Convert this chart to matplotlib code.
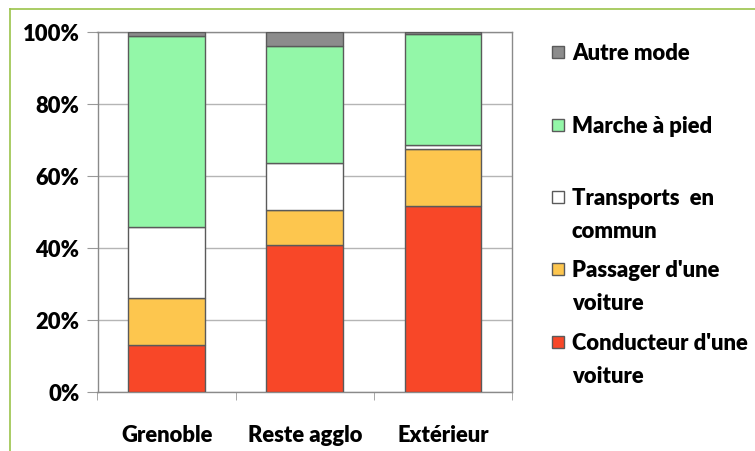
import numpy as np
import matplotlib.pyplot as plt
from matplotlib.patches import Rectangle
from matplotlib.lines import Line2D

plt.rcParams['font.family'] = ['Lato', 'DejaVu Sans']
plt.rcParams['font.weight'] = 'heavy'

# Data (percent of trips)
zones = ['Grenoble', 'Reste agglo', 'Extérieur']
conducteur = [13.1, 40.7, 51.6]
passager = [13.0, 9.9, 15.9]
transports = [19.6, 13.0, 0.9]
marche = [53.1, 32.5, 30.9]
autre = [1.2, 3.9, 0.7]

series = [conducteur, passager, transports, marche, autre]
labels = ["Conducteur d'une\nvoiture", "Passager d'une\nvoiture", "Transports  en\ncommun",
          "Marche à pied", "Autre mode"]
colors = ['#f84728', '#fdc64e', '#ffffff', '#93f7a8', '#8c8c8c']
fs = 15.8

fig = plt.figure(figsize=(7.55, 4.52), dpi=100)
W, H = 755, 452
ax = fig.add_axes([97.5 / W, (H - 392.7) / H, (512 - 97.5) / W, (392.7 - 32.7) / H])

x = np.arange(len(zones))
bottom = np.zeros(len(zones))
for vals, col in zip(series, colors):
    ax.bar(x, vals, width=0.556, bottom=bottom, color=col, edgecolor='#5a5a5a',
           linewidth=1.0, zorder=3)
    bottom += np.array(vals)

ax.set_xlim(-0.5, 2.5)
ax.set_ylim(0, 100)
ax.set_yticks(np.arange(0, 101, 20))
ax.set_yticklabels([f'{v}%' for v in range(0, 101, 20)])
ax.yaxis.grid(True, color='#b5b5b5', linewidth=1.0, zorder=0)
ax.set_xticks(x)
ax.set_xticklabels(zones)
ax.set_xticks([-0.5, 0.5, 1.5, 2.5], minor=True)
ax.tick_params(axis='x', which='major', length=0, pad=23, labelsize=fs)
ax.tick_params(axis='x', which='minor', length=6, color='#999999', direction='out')
ax.tick_params(axis='y', length=8, color='#999999', pad=5, labelsize=fs)
for s in ax.spines.values():
    s.set_color('#8a8a8a')
    s.set_linewidth(1.0)

# legend (top-down: Autre, Marche, Transports, Passager, Conducteur)
leg_y = [53, 126, 198, 270, 343]
for yy, lab, col in zip(leg_y, labels[::-1], colors[::-1]):
    fig.patches.append(Rectangle((552 / W, (H - yy - 6) / H), 12 / W, 12 / H,
                                 transform=fig.transFigure, facecolor=col,
                                 edgecolor='#5a5a5a', linewidth=1.0))
    fig.text(572 / W, (H - yy + 10) / H, lab, fontsize=fs, fontweight='heavy',
             va='top', ha='left', linespacing=1.72)

# green outer frame
fig.add_artist(Line2D([10 / W, 10 / W], [0, (H - 10) / H], transform=fig.transFigure,
                      color='#9bc34a', linewidth=1.2))
fig.add_artist(Line2D([10 / W, 1], [(H - 10) / H, (H - 10) / H], transform=fig.transFigure,
                      color='#9bc34a', linewidth=1.2))

fig.savefig('out.png', dpi=100)
